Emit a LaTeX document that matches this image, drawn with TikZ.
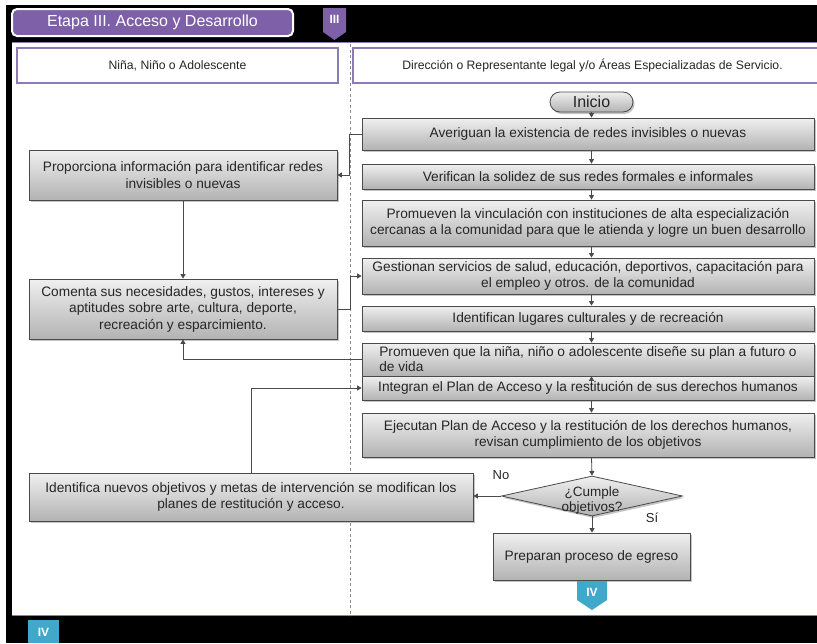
\documentclass[tikz,border=0pt]{standalone}
\usepackage{fontspec}
\setmainfont{Liberation Sans}
\usetikzlibrary{shapes.geometric,arrows.meta,shadows,calc}

\definecolor{etapa}{HTML}{7E60A8}
\definecolor{lanebd}{HTML}{8C7BB4}
\definecolor{nextst}{HTML}{40A8C8}
\definecolor{ink}{HTML}{262626}
\definecolor{edge}{HTML}{4A4A4A}

\tikzset{
  procbox/.style={draw=edge, line width=0.8pt, top color=black!6, bottom color=black!30,
    drop shadow={shadow xshift=1.5pt, shadow yshift=-2pt, opacity=0.45},
    inner sep=0pt, text=ink, align=center, font=\fontsize{13.7}{16.5}\selectfont},
  decbox/.style={procbox, shape=diamond},
  startbox/.style={procbox, rounded corners=10pt, font=\fontsize{16}{18}\selectfont},
  lanehead/.style={draw=lanebd, line width=1.6pt, fill=white, inner sep=0pt,
    text=ink, font=\fontsize{12.2}{14}\selectfont},
  flow/.style={draw=edge, line width=0.8pt, -{Triangle[length=4.5pt,width=5pt]}},
  lanesep/.style={draw=black!45, line width=0.7pt, dash pattern=on 3pt off 2.5pt},
  tagtext/.style={text=white, font=\fontsize{12}{14}\selectfont\bfseries, inner sep=0pt},
  flowlabel/.style={text=ink, inner sep=0pt, font=\fontsize{13}{15}\selectfont}
}

\begin{document}
\begin{tikzpicture}[x=1pt, y=-1pt]
  \useasboundingbox[fill=white] (0,0) rectangle (817,643);

  % frame: black bands top, left and bottom
  \fill[black] (6,5) rectangle (817,42);
  \fill[black] (6,5) rectangle (12,643);
  \fill[black] (6,616) rectangle (817,643);
  \draw[lanebd, line width=1pt] (12,42.5) -- (817,42.5);
  \draw[lanebd, line width=1pt] (12,615.5) -- (817,615.5);

  % stage title and its tab
  \node[draw=white, line width=2pt, fill=etapa, rounded corners=5pt, minimum width=281pt,
        minimum height=27pt, inner sep=0pt, text=white, font=\fontsize{16}{18}\selectfont]
        (title) at (152.5,22.5) {Etapa III. Acceso y Desarrollo};
  \fill[etapa] (323,8) -- (346,8) -- (346,32) -- (334.5,40) -- (323,32) -- cycle;
  \node[tagtext] (tagIII) at (334.5,19) {III};

  % swimlane headers and divider
  \node[lanehead, minimum width=321pt, minimum height=35pt] (laneA) at (177.5,65.5)
        {Niña, Niño o Adolescente};
  \node[lanehead, minimum width=479pt, minimum height=35pt] (laneB) at (592.5,65.5)
        {Dirección o Representante legal y/o Áreas Especializadas de Servicio.};
  \draw[lanesep] (350,44) -- (350,616);

  % right lane
  \node[startbox, minimum width=83pt, minimum height=20pt] (ini) at (591.5,102) {Inicio};
  \node[procbox, minimum width=452pt, minimum height=32pt] (b1) at (588,134)
        {Averiguan la existencia de redes invisibles o nuevas};
  \node[procbox, minimum width=452pt, minimum height=25pt] (b2) at (588,176.5)
        {Verifican la solidez de sus redes formales e informales};
  \node[procbox, minimum width=452pt, minimum height=46pt] (b3) at (588,223)
        {Promueven la vinculación con instituciones de alta especialización\\
         cercanas a la comunidad para que le atienda y logre un buen desarrollo};
  \node[procbox, minimum width=452pt, minimum height=36pt] (b4) at (588,276)
        {Gestionan servicios de salud, educación, deportivos, capacitación para\\
         el empleo y otros. de la comunidad};
  \node[procbox, minimum width=452pt, minimum height=25pt] (b5) at (588,318.5)
        {Identifican lugares culturales y de recreación};
  \node[procbox, minimum width=452pt, minimum height=33pt, align=left,
        font=\fontsize{13.7}{15}\selectfont] (b6) at (588,359.5)
        {Promueven que la niña, niño o adolescente diseñe su plan a futuro o\\
         de vida};
  \node[procbox, minimum width=452pt, minimum height=24pt] (b7) at (588,388)
        {Integran el Plan de Acceso y la restitución de sus derechos humanos};
  \node[procbox, minimum width=452pt, minimum height=44pt] (b8) at (588,435)
        {Ejecutan Plan de Acceso y la restitución de los derechos humanos,\\
         revisan cumplimiento de los objetivos};
  \node[decbox, minimum width=181pt, minimum height=40pt] (dec) at (592,496) {};
  \node[text=ink, inner sep=0pt, align=center, font=\fontsize{13.5}{15}\selectfont]
        (decq) at (592,501) {¿Cumple\\objetivos?};
  \node[procbox, minimum width=197pt, minimum height=47pt] (egr) at (591.5,556.5)
        {Preparan proceso de egreso};
  \node[flowlabel] (lno) at (501,475) {No};
  \node[flowlabel] (lsi) at (652,518) {Sí};

  % next stage tabs
  \fill[nextst] (577,581) -- (607,581) -- (607,600) -- (592,610) -- (577,600) -- cycle;
  \node[tagtext] (tagIVa) at (592,592) {IV};
  \fill[nextst] (28,620) rectangle (59,643);
  \node[tagtext] (tagIVb) at (43.5,632) {IV};

  % left lane
  \node[procbox, minimum width=308pt, minimum height=50pt] (l1) at (183,175)
        {Proporciona información para identificar redes\\ invisibles o nuevas};
  \node[procbox, minimum width=308pt, minimum height=60pt] (l2) at (183,309)
        {Comenta sus necesidades, gustos, intereses y\\ aptitudes sobre arte, cultura, deporte,\\
         recreación y esparcimiento.};
  \node[procbox, minimum width=444pt, minimum height=48pt] (l3) at (251,497)
        {Identifica nuevos objetivos y metas de intervención se modifican los\\
         planes de restitución y acceso.};

  % main sequence
  \draw[flow] (ini) -- (b1.north -| ini);
  \draw[flow] (b1.south -| ini) -- (b2.north -| ini);
  \draw[flow] (b2.south -| ini) -- (b3.north -| ini);
  \draw[flow] (b3.south -| ini) -- (b4.north -| ini);
  \draw[flow] (b4.south -| ini) -- (b5.north -| ini);
  \draw[flow] (b5.south -| ini) -- (b6.north -| ini);
  \draw[flow] ($(b7.north -| ini)+(0,5)$) -- (b6.south -| ini);
  \draw[flow] (b7.south -| ini) -- (b8.north -| ini);
  \draw[flow] (b8.south -| ini) -- (dec.north);
  \draw[flow] (dec.south) -- (egr.north -| dec);

  % exchanges between lanes
  \draw[flow] (b1.west) -- ++(-12,0) |- (l1.east);
  \draw[flow] (l1) -- (l2);
  \draw[flow] (l2.east) -- ++(13,0) |- (b4.west);
  \draw[flow] (b6.west) -| (l2.south);
  \draw[flow] (l3.north) |- (b7.west);
  \draw[flow] (dec.west) -- (dec.west -| l3.east);
\end{tikzpicture}
\end{document}
